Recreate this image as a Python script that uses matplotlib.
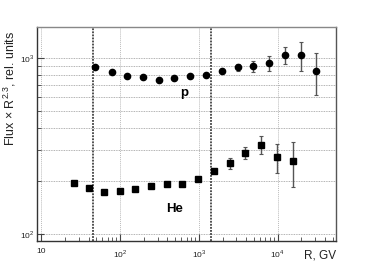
import matplotlib
matplotlib.use("Agg")
import matplotlib.pyplot as plt
from matplotlib.ticker import LogLocator, NullFormatter, FixedLocator, FixedFormatter

plt.rcParams['font.family'] = ['Liberation Sans', 'DejaVu Sans']
plt.rcParams['mathtext.fontset'] = 'custom'
plt.rcParams['mathtext.rm'] = 'Liberation Sans'

# Proton data
p_R = [48, 79, 124, 197, 312, 492, 785, 1230, 1950, 3120, 4920, 7760, 12400, 19700, 30900]
p_F = [889, 826, 788, 774, 750, 771, 791, 798, 841, 886, 893, 929, 1032, 1032, 838]
p_err = [0, 0, 0, 0, 0, 0, 0, 0, 15, 40, 65, 90, 115, 190, 225]

# Helium data
he_R = [26.2, 40.8, 63.2, 100, 156, 247, 390, 615, 979, 1550, 2470, 3900, 6150, 9790, 15600]
he_F = [195, 182, 173, 176, 180, 187, 193, 192, 205, 229, 252, 288, 321, 273, 259]
he_err = [0, 0, 0, 0, 0, 0, 0, 0, 0, 5, 18, 22, 38, 52, 74]

vlines = [46, 1450]
xticks = [10, 100, 1000, 10000]
xticklabels = ['10', '$10^2$', '$10^3$', '$10^4$']
yticks = [100, 1000]
yticklabels = ['$10^2$', '$10^3$']

fig = plt.figure(figsize=(3.74, 2.68), dpi=100)
ax = fig.add_axes([0.099, 0.1007, 0.799, 0.7997])
ax.set_xscale('log')
ax.set_yscale('log')
ax.set_xlim(8.9, 54700)
ax.set_ylim(91.2, 1500)

# grid
for x in xticks:
    ax.axvline(x, color='#bbbbbb', lw=0.7, ls=(0, (1, 1)), zorder=0)
for y in [100, 200, 300, 400, 500, 600, 700, 800, 900, 1000]:
    ax.axhline(y, color='#999999', lw=0.6, ls=(0, (1, 1)), zorder=0)
for x in vlines:
    ax.axvline(x, color='#222222', lw=1.1, ls=(0, (1.2, 0.8)), zorder=1)

ax.errorbar(p_R, p_F, yerr=p_err, fmt='o', color='black', ms=4.5,
            ecolor='#555555', elinewidth=1.0, capsize=1.5, capthick=0.8, zorder=3)
ax.errorbar(he_R, he_F, yerr=he_err, fmt='s', color='black', ms=4.3,
            ecolor='#555555', elinewidth=1.0, capsize=1.5, capthick=0.8, zorder=3)

ax.text(659, 631, 'p', fontsize=9.5, fontweight='bold', ha='center', va='center')
ax.text(497, 139, 'He', fontsize=9.5, fontweight='bold', ha='center', va='center')

ax.xaxis.set_major_locator(FixedLocator(xticks))
ax.xaxis.set_major_formatter(FixedFormatter(xticklabels))
ax.xaxis.set_minor_locator(LogLocator(base=10, subs=range(2, 10)))
ax.xaxis.set_minor_formatter(NullFormatter())
ax.yaxis.set_major_locator(FixedLocator(yticks))
ax.yaxis.set_major_formatter(FixedFormatter(yticklabels))
ax.yaxis.set_minor_locator(LogLocator(base=10, subs=range(2, 10)))
ax.yaxis.set_minor_formatter(NullFormatter())

ax.tick_params(which='both', direction='in', labelsize=6, colors='#444444', labelcolor='#222222')
ax.tick_params(which='major', length=5, width=0.8)
ax.tick_params(which='minor', length=3, width=0.6)
ax.tick_params(axis='x', pad=5)
ax.tick_params(axis='y', pad=2)

ax.spines['left'].set_color('#333333')
ax.spines['bottom'].set_color('#333333')
ax.spines['top'].set_color('#888888')
ax.spines['right'].set_color('#555555')
for s in ax.spines.values():
    s.set_linewidth(1.0)

fig.text(0.027, 0.672, 'Flux × R$^{2.3}$, rel. units', rotation=90,
         ha='center', va='center', fontsize=9, color='#222222')
fig.text(0.898, 0.045, 'R, GV', ha='right', va='center', fontsize=8.5, color='#222222')

fig.savefig('out.png', dpi=100)
